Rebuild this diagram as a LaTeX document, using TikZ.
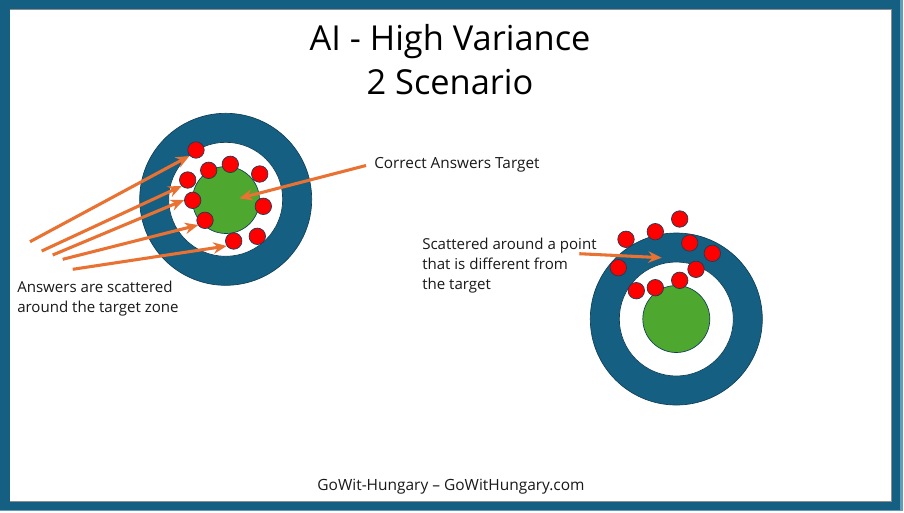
\documentclass[tikz,border=0pt]{standalone}
\usepackage{fontspec}
\setmainfont{Open Sans}
\usetikzlibrary{arrows.meta}
\definecolor{frameblue}{HTML}{156082}
\definecolor{frameedge}{HTML}{5F9DB8}
\definecolor{ringedge}{HTML}{0F3F57}
\definecolor{targetgreen}{HTML}{4EA72E}
\definecolor{arroworange}{HTML}{E97132}
\definecolor{dotred}{HTML}{FF0000}
\tikzset{
  x=0.75pt,y=-0.75pt,
  ring/.style={circle,draw=ringedge,line width=0.5pt,fill=frameblue,inner sep=0,minimum size=172*0.75pt},
  hole/.style={circle,draw=ringedge,line width=0.5pt,fill=white,inner sep=0,minimum size=114*0.75pt},
  bull/.style={circle,draw=ringedge,line width=0.5pt,fill=targetgreen,inner sep=0,minimum size=67*0.75pt},
  dot/.style={circle,draw=ringedge,line width=0.5pt,fill=dotred,inner sep=0,minimum size=16.5*0.75pt},
  pointer/.style={draw=arroworange,line width=2.3pt,-{Stealth[length=10pt,width=8.5pt]}},
  body/.style={anchor=base west,inner sep=0,font=\fontsize{11.5}{15}\selectfont,align=left,text=black!90},
  bodysmall/.style={body,font=\fontsize{11.3}{15}\selectfont},
}
\begin{document}
\begin{tikzpicture}
\useasboundingbox (0,0) rectangle (904,512);
\fill[white] (0,0) rectangle (904,512);
% frame
\fill[frameedge] (0,0) rectangle (903,511);
\fill[frameblue] (0,0) rectangle (900,510);
\fill[black!45] (9.5,9) rectangle (892,502);
\fill[white] (10,9.5) rectangle (891,501);
% title
\node[inner sep=0,anchor=base,font=\fontsize{25.8}{33}\selectfont,align=center,text=black] (title) at (450,94)
  {AI - High Variance\\2 Scenario};
% left target
\node[ring] (lring) at (225.7,199.3) {};
\node[hole] (lhole) at (225.7,199.3) {};
\node[bull] (lbull) at (226,200) {};
\foreach \n/\p/\q in {a/196/150,b/187.7/180,c/208.7/170.3,d/230.3/164.3,e/259.7/174,f/192.7/200.3,g/263.3/206.3,h/205/220.3,i/233.7/241,j/257.3/236.3}
  \node[dot] (l\n) at (\p,\q) {};
% right target
\node[ring] (rring) at (676.3,319) {};
\node[hole] (rhole) at (676.3,319) {};
\node[bull] (rbull) at (676.3,319) {};
\foreach \n/\p/\q in {a/679.7/219,b/655.3/231.7,c/626/239.3,d/689.7/243,e/712.3/253.3,f/618.3/267.7,g/696/269.3,h/679.7/280.3,i/655.3/287.7,j/636.3/290.7}
  \node[dot] (r\n) at (\p,\q) {};
% labels
\node[bodysmall] (ltext) at (17,312) {Answers are scattered\\around the target zone};
\node[body] (ctext) at (374,168) {Correct Answers Target};
\node[bodysmall] (rtext) at (422,289) {Scattered around a point\\that is different from\\the target};
\node[inner sep=0,anchor=base,font=\fontsize{11.6}{15}\selectfont,text=black!90] (foot) at (451,490) {GoWit-Hungary – GoWitHungary.com};
% arrow ends
\coordinate (s1) at (30,241.7);
\coordinate (s2) at (41.7,251);
\coordinate (s3) at (52.7,255);
\coordinate (s4) at (62.7,259.3);
\coordinate (s5) at (72.7,269.3);
\coordinate (s6) at (366,165.5);
\coordinate (s7) at (579.3,253.7);
\coordinate (t1) at (189.3,156);
\coordinate (t2) at (181.7,186);
\coordinate (t3) at (184,200);
\coordinate (t4) at (198.3,225);
\coordinate (t5) at (226.7,246);
\coordinate (t6) at (239.3,198.3);
\coordinate (t7) at (661.7,257.7);
\draw[pointer] (s1) -- (t1);
\draw[pointer] (s2) -- (t2);
\draw[pointer] (s3) -- (t3);
\draw[pointer] (s4) -- (t4);
\draw[pointer] (s5) -- (t5);
\draw[pointer] (s6) -- (t6);
\draw[pointer] (s7) -- (t7);
\end{tikzpicture}
\end{document}
